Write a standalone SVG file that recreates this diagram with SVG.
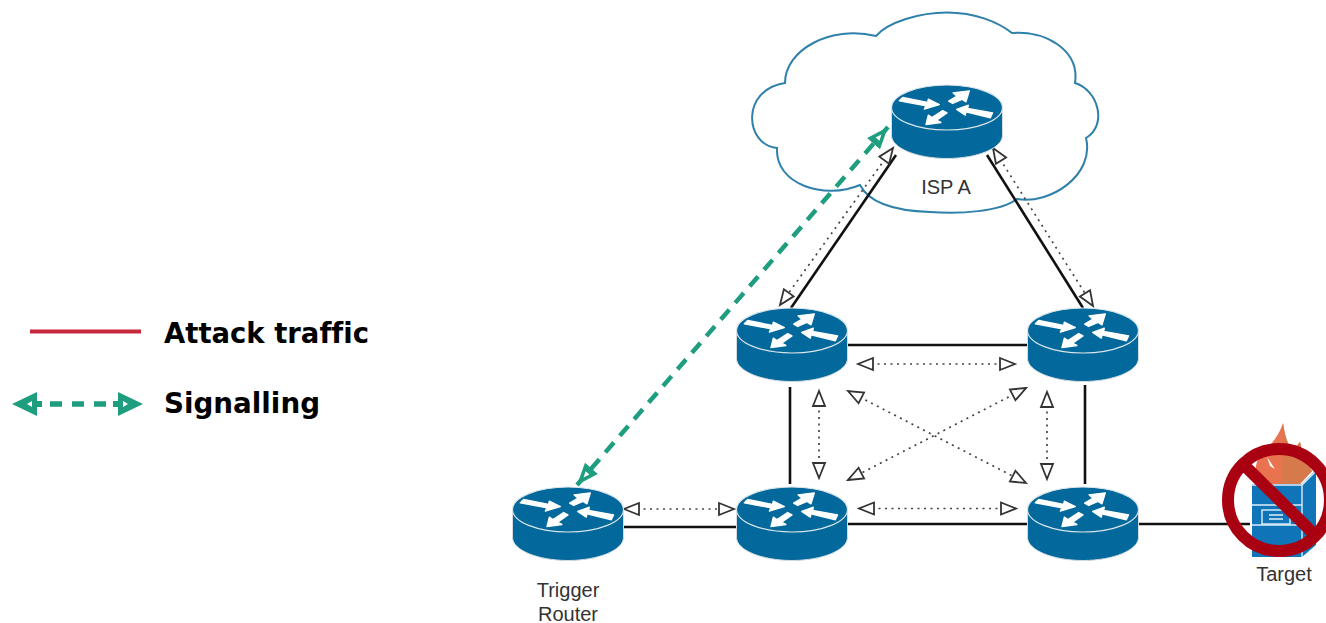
<svg xmlns="http://www.w3.org/2000/svg" width="1326" height="623" viewBox="0 0 1326 623">
<style>
.solid{stroke:#111;stroke-width:2.600;fill:none}
.dot{stroke:#444;stroke-width:1.700;stroke-dasharray:2 4.5;fill:none;marker-start:url(#hollow);marker-end:url(#hollow)}
.lbl{font-family:"Liberation Sans",Arial,sans-serif;font-size:20px;fill:#333;text-anchor:middle}
.leg{font-family:"DejaVu Sans",Verdana,sans-serif;font-weight:700;font-size:29px;fill:#000;font-variant-ligatures:none}
</style>
<defs>
<marker id="hollow" markerUnits="userSpaceOnUse" markerWidth="20" markerHeight="16" refX="17" refY="8" orient="auto-start-reverse">
<path d="M17 8L2 2V14Z" fill="#fff" stroke="#333" stroke-width="1.800"/>
</marker>
<marker id="green" markerUnits="userSpaceOnUse" markerWidth="30" markerHeight="26" refX="27" refY="13" orient="auto-start-reverse">
<path d="M27 13L5 4.500V21.500Z" fill="#1f9d7f"/>
<path d="M17 13L11 10.500V15.500Z" fill="#fff"/>
</marker>
<g id="router">
<path d="M-55.500 0V28C-55.500 40.500-30.500 51-0 51S55.500 40.500 55.500 28V0Z" fill="#03689b" stroke="#d5dde2" stroke-width="1"/>
<ellipse cx="0" cy="0" rx="55.500" ry="22.500" fill="#03689b" stroke="#dbe6ec" stroke-width="1.200"/>
<g fill="#fff" stroke="#fff" stroke-width="4" stroke-linejoin="round" transform="translate(-76 -37.330) scale(.3333)">
<path d="M85 92L95 82L170 97L172 87L205 103L160 117L165 107Z"/>
<path d="M233 93L258 78L246 68L295 62L285 95L273 88L245 100Z"/>
<path d="M257 118L292 105L290 115L365 128L358 143L285 125L283 135Z"/>
<path d="M165 163L172 135L183 142L215 121L228 128L197 150L210 157Z"/>
</g>
</g>
</defs>

<path id="cloud" d="M876 36C888 22 920 12.500 947 12.500C975 12.500 998 22 1012 33C1045 30 1080 50 1075 83C1098 90 1108 125 1086 138C1095 175 1050 205 1017 199C1000 212 960 214 930 212C900 211 870 205 860 185C825 200 775 185 777 148C745 145 740 90 785 83C785 50 830 25 876 36Z" fill="#fff" stroke="#2f80aa" stroke-width="2"/>

<g id="connectors">
<line class="solid" x1="896" y1="155" x2="791" y2="308"/>
<line class="solid" x1="987" y1="155" x2="1083" y2="308"/>
<line class="solid" x1="848" y1="345" x2="1027" y2="345"/>
<line class="solid" x1="848" y1="524" x2="1027" y2="524"/>
<line class="solid" x1="623" y1="527" x2="736" y2="527"/>
<line class="solid" x1="790" y1="387" x2="790" y2="484"/>
<line class="solid" x1="1085" y1="385" x2="1085" y2="484"/>
<line class="solid" x1="1139" y1="524" x2="1250" y2="524"/>
<line class="dot" x1="858" y1="364" x2="1015" y2="364"/>
<line class="dot" x1="859" y1="508.500" x2="1016" y2="508.500"/>
<line class="dot" x1="624" y1="509" x2="734" y2="509"/>
<line class="dot" x1="819" y1="391" x2="819" y2="478"/>
<line class="dot" x1="1047" y1="392" x2="1047" y2="479"/>
<line class="dot" x1="848" y1="391" x2="1026" y2="483"/>
<line class="dot" x1="1026" y1="388" x2="848" y2="480"/>
<line class="dot" x1="893" y1="148" x2="780" y2="305"/>
<line class="dot" x1="993" y1="148" x2="1093" y2="306"/>
<line x1="888" y1="127" x2="577" y2="485" stroke="#1f9d7f" stroke-width="4.500" stroke-dasharray="13 9" marker-start="url(#green)" marker-end="url(#green)"/>
</g>

<g id="isp-a"><use href="#router" x="947" y="107.500"/><text class="lbl" x="946" y="194">ISP A</text></g>
<g id="router-tl"><use href="#router" x="792" y="330.500"/></g>
<g id="router-tr"><use href="#router" x="1083" y="330.500"/></g>
<g id="trigger-router"><use href="#router" x="568" y="509.500"/><text class="lbl" x="568" y="597">Trigger</text><text class="lbl" x="568" y="621">Router</text></g>
<g id="router-bl"><use href="#router" x="792" y="509.500"/></g>
<g id="router-br"><use href="#router" x="1083" y="509.500"/></g>

<g id="target">
<path d="M1302 484L1316 470V545L1302 557Z" fill="#0f74b8"/>
<rect x="1252" y="484" width="50" height="73" fill="#0f74b8"/>
<path d="M1283 423C1280 432 1276 438 1272 443C1266 450 1258 455 1257 462C1255 468 1256 472 1258 475L1268 484H1300L1312 471C1309 465 1305 459 1302 453C1301 449 1301 445 1300 442L1295 448C1291 446 1289 444 1288 443C1285 436 1284 430 1283 423Z" fill="#e9734f"/>
<path d="M1283 423C1284 430 1285 436 1288 443C1289 444 1291 446 1295 448L1300 442C1301 445 1301 449 1302 453C1305 459 1309 465 1312 471L1300 484H1282Z" fill="#d67a4c"/>
<path d="M1267 457L1275 469L1270 466Z" fill="#fff"/>
<g fill="none" stroke="#dfeef7" stroke-width="1.400">
<path d="M1252 485H1302L1316 471"/>
<path d="M1302 485V557"/>
<path d="M1252 505H1302"/>
<path d="M1252 525H1302"/>
<rect x="1262" y="510" width="28" height="14"/>
<path d="M1269 515H1283M1269 519H1283"/>
</g>
<circle cx="1279" cy="500" r="51" fill="none" stroke="#a90012" stroke-width="12"/>
<line x1="1244" y1="465" x2="1315" y2="535" stroke="#a90012" stroke-width="12"/>
<text class="lbl" x="1284" y="581">Target</text>
</g>

<g id="legend">
<line x1="30" y1="331.500" x2="141" y2="331.500" stroke="#c8283c" stroke-width="4"/>
<text class="leg" x="164" y="343" textLength="205" lengthAdjust="spacingAndGlyphs">Attack traffic</text>
<line x1="50" y1="404" x2="106" y2="404" stroke="#1f9d7f" stroke-width="5.500" stroke-dasharray="12 10"/>
<path d="M12 404L37 392V401H42V407H37V416Z" fill="#1f9d7f"/>
<path d="M27 404L32 401V407Z" fill="#fff"/>
<path d="M143 404L118 392V401H113V407H118V416Z" fill="#1f9d7f"/>
<path d="M128 404L123 401V407Z" fill="#fff"/>
<text class="leg" x="164" y="413" textLength="156" lengthAdjust="spacingAndGlyphs">Signalling</text>
</g>
</svg>
